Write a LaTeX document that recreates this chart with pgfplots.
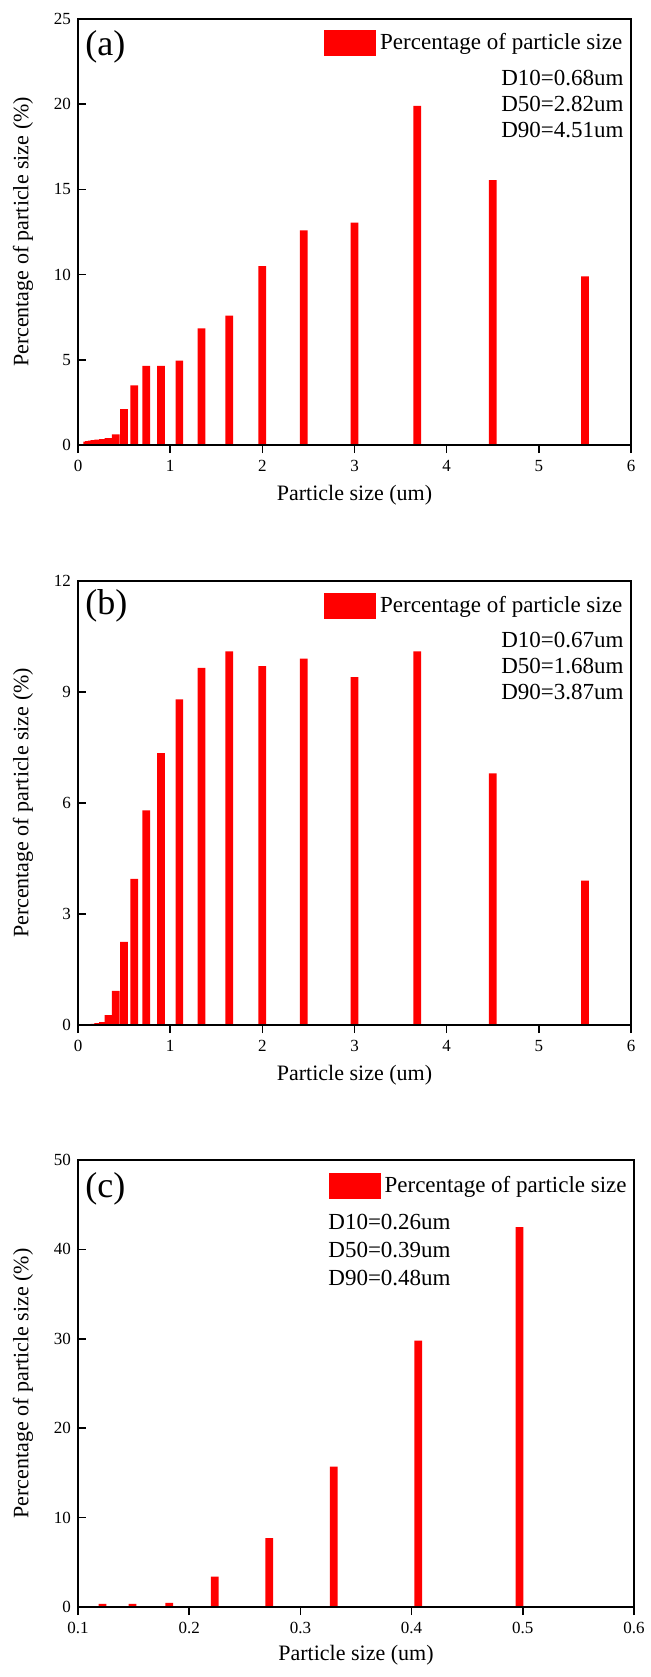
\documentclass[border=0pt]{standalone}
\usepackage{fontspec}
\setmainfont{Liberation Serif}
\usepackage{pgfplots}
\pgfplotsset{compat=1.18}

\pgfplotsset{
  psd/.style={
    scale only axis,
    width=276.5pt,
    axis on top,
    axis line style={line width=0.8pt},
    every tick/.style={black, line width=0.8pt},
    major tick length=4pt,
    xtick pos=left, ytick pos=left,
    tick align=inside,
    ybar, bar width=3.85pt,
    /pgf/number format/assume math mode=true,
    tick label style={font=\fontsize{8.5}{10}\selectfont},
    label style={font=\fontsize{11}{13}\selectfont},
    xlabel={Particle size (um)},
    ylabel={Percentage of particle size (\%)},
    xlabel style={at={(axis description cs:0.5,0)}, anchor=center, yshift=-25pt},
    ylabel style={at={(axis description cs:-0.0995,0.5)}, anchor=center},
    legend image code/.code={\fill[red] (0pt,-6.5pt) rectangle (26pt,6.5pt);},
    legend style={draw=none, fill=none, inner sep=0pt, at={(1,1)}, anchor=north east,
      font=\fontsize{11.5}{13}\selectfont},
    legend cell align=left,
  },
}
\tikzset{
  dtext/.style={inner sep=0pt, font=\fontsize{11.5}{13}\selectfont},
  plabel/.style={inner sep=0pt, anchor=west, font=\fontsize{18}{20}\selectfont},
}

\pgfplotstableread{
x y
0.10 0.20
0.12 0.23
0.15 0.26
0.18 0.29
0.22 0.32
0.27 0.35
0.33 0.40
0.41 0.62
0.50 2.10
0.61 3.50
0.74 4.65
0.90 4.65
1.10 4.95
1.34 6.85
1.64 7.60
2.00 10.50
2.45 12.60
3.00 13.05
3.68 19.90
4.50 15.55
5.50 9.90
}\dataA

\pgfplotstableread{
x y
0.12 0.01
0.15 0.02
0.18 0.03
0.22 0.05
0.27 0.08
0.33 0.27
0.41 0.92
0.50 2.25
0.61 3.95
0.74 5.80
0.90 7.35
1.10 8.80
1.34 9.65
1.64 10.10
2.00 9.70
2.45 9.90
3.00 9.40
3.68 10.10
4.50 6.80
5.50 3.90
}\dataB

\pgfplotstableread{
x y
0.122 0.35
0.149 0.35
0.182 0.45
0.223 3.40
0.272 7.70
0.330 15.70
0.406 29.80
0.497 42.50
}\dataC

\begin{document}
\begin{tikzpicture}
\useasboundingbox (0,0) rectangle (325.5pt,-838.5pt);

% (a)
\begin{axis}[psd, at={(39pt,-9.5pt)}, anchor=north west, height=213pt,
  xmin=0, xmax=6, xtick={0,1,2,3,4,5,6},
  ymin=0, ymax=25, ytick={0,5,10,15,20,25},
  legend style={xshift=-2.2pt, yshift=-5pt}]
\addplot[fill=red, draw=none] table[x=x, y=y] {\dataA};
\addlegendentry{Percentage of particle size}
\node[plabel] at (rel axis cs:0,1) [xshift=3.5pt, yshift=-14pt] {(a)};
\node[dtext, anchor=east] at (rel axis cs:1,1) [xshift=-3.5pt, yshift=-29.5pt] {D10=0.68um};
\node[dtext, anchor=east] at (rel axis cs:1,1) [xshift=-3.5pt, yshift=-42.5pt] {D50=2.82um};
\node[dtext, anchor=east] at (rel axis cs:1,1) [xshift=-3.5pt, yshift=-55.5pt] {D90=4.51um};
\end{axis}

% (b)
\begin{axis}[psd, at={(39pt,-290.5pt)}, anchor=north west, height=222pt,
  xmin=0, xmax=6, xtick={0,1,2,3,4,5,6},
  ymin=0, ymax=12, ytick={0,3,6,9,12},
  legend style={xshift=-2.2pt, yshift=-5.5pt}]
\addplot[fill=red, draw=none] table[x=x, y=y] {\dataB};
\addlegendentry{Percentage of particle size}
\node[plabel] at (rel axis cs:0,1) [xshift=3.5pt, yshift=-12.5pt] {(b)};
\node[dtext, anchor=east] at (rel axis cs:1,1) [xshift=-3.5pt, yshift=-29.5pt] {D10=0.67um};
\node[dtext, anchor=east] at (rel axis cs:1,1) [xshift=-3.5pt, yshift=-42.5pt] {D50=1.68um};
\node[dtext, anchor=east] at (rel axis cs:1,1) [xshift=-3.5pt, yshift=-55.5pt] {D90=3.87um};
\end{axis}

% (c)
\begin{axis}[psd, at={(39pt,-580pt)}, anchor=north west, width=278pt, height=223.5pt,
  xmin=0.1, xmax=0.6, xtick={0.1,0.2,0.3,0.4,0.5,0.6},
  xticklabel style={/pgf/number format/fixed, /pgf/number format/precision=1},
  ymin=0, ymax=50, ytick={0,10,20,30,40,50},
  ylabel style={at={(axis description cs:-0.099,0.5)}},
  xlabel style={yshift=1pt},
  legend style={xshift=-1.5pt, yshift=-6pt}]
\addplot[fill=red, draw=none] table[x=x, y=y] {\dataC};
\addlegendentry{Percentage of particle size}
\node[plabel] at (rel axis cs:0,1) [xshift=3.5pt, yshift=-14.5pt] {(c)};
\node[dtext, anchor=west] at (rel axis cs:0,1) [xshift=125pt, yshift=-31pt] {D10=0.26um};
\node[dtext, anchor=west] at (rel axis cs:0,1) [xshift=125pt, yshift=-45pt] {D50=0.39um};
\node[dtext, anchor=west] at (rel axis cs:0,1) [xshift=125pt, yshift=-59pt] {D90=0.48um};
\end{axis}
\end{tikzpicture}
\end{document}
